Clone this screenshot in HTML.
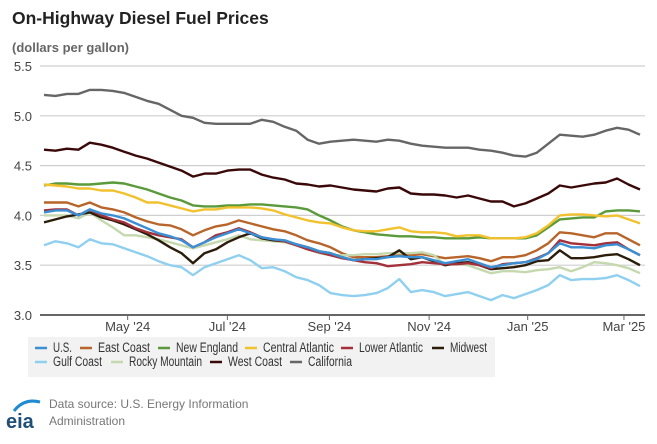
<!DOCTYPE html>
<html><head><meta charset="utf-8">
<style>
body{margin:0;background:#fff;width:657px;height:439px;overflow:hidden;font-family:"Liberation Sans",sans-serif;}
svg text{font-family:"Liberation Sans",sans-serif;}
</style></head>
<body>
<svg id="chart" width="657" height="439">
  <text x="12" y="24" font-size="17.5" font-weight="bold" fill="#222">On-Highway Diesel Fuel Prices</text>
  <text x="12" y="52" font-size="13" font-weight="bold" fill="#666">(dollars per gallon)</text>
  <g id="grid"></g><g id="series"></g><g id="xaxis"></g>
  <rect x="28" y="337" width="467" height="40" fill="#f2f2f2"/>
  <g id="legend"></g>
  <g>
    <path d="M14 411 Q24 398 40 402" stroke="#1f8ad1" stroke-width="3" fill="none"/>
    <text x="6" y="428" font-size="20" font-weight="bold" fill="#1f4e79">eia</text>
  </g>
  <text x="49" y="408" font-size="12" fill="#777">Data source: U.S. Energy Information</text>
  <text x="49" y="425" font-size="12" fill="#777">Administration</text>
</svg>
<script>
const yTicks=[3.0,3.5,4.0,4.5,5.0,5.5];
const xTickLabels=["May '24","Jul '24","Sep '24","Nov '24","Jan '25","Mar '25"];
const xTickIndex=[7.3,16.0,24.9,33.6,42.2,50.6];
const seriesNames=["U.S.","East Coast","New England","Central Atlantic","Lower Atlantic","Midwest","Gulf Coast","Rocky Mountain","West Coast","California"];
const seriesColors=["#3b8fd4","#b8652b","#5a9a3a","#f2c12e","#a3303a","#2b1d0a","#8fd0f0","#c5d8ae","#3a0808","#666666"];
const usData=[4.03,4.05,4.05,4.00,4.06,4.02,4.00,3.97,3.92,3.87,3.82,3.79,3.75,3.68,3.73,3.78,3.82,3.86,3.82,3.78,3.76,3.75,3.71,3.68,3.64,3.62,3.58,3.55,3.56,3.56,3.58,3.59,3.58,3.58,3.55,3.52,3.54,3.56,3.52,3.48,3.50,3.52,3.53,3.56,3.62,3.72,3.68,3.68,3.67,3.70,3.71,3.66,3.60];
const eastCoast=[4.13,4.13,4.13,4.09,4.13,4.08,4.06,4.03,3.98,3.94,3.91,3.90,3.86,3.80,3.85,3.89,3.91,3.95,3.92,3.89,3.86,3.84,3.80,3.75,3.72,3.68,3.62,3.58,3.58,3.58,3.59,3.60,3.60,3.61,3.59,3.57,3.58,3.59,3.57,3.54,3.58,3.58,3.60,3.65,3.72,3.83,3.82,3.80,3.78,3.82,3.82,3.76,3.70];
const newEngland=[4.30,4.32,4.32,4.31,4.31,4.32,4.33,4.32,4.29,4.26,4.22,4.18,4.15,4.10,4.09,4.09,4.10,4.10,4.11,4.11,4.10,4.09,4.08,4.06,4.00,3.95,3.89,3.85,3.83,3.81,3.80,3.79,3.79,3.78,3.78,3.77,3.77,3.77,3.78,3.77,3.77,3.77,3.77,3.80,3.88,3.96,3.97,3.98,3.98,4.04,4.05,4.05,4.04];
const centralAtlantic=[4.31,4.30,4.29,4.27,4.27,4.25,4.25,4.22,4.18,4.13,4.13,4.10,4.07,4.04,4.06,4.06,4.08,4.08,4.08,4.07,4.05,4.01,3.98,3.95,3.93,3.92,3.88,3.85,3.84,3.84,3.86,3.88,3.84,3.83,3.83,3.82,3.79,3.80,3.80,3.77,3.77,3.77,3.78,3.82,3.90,4.00,4.01,4.01,4.00,3.99,4.00,3.96,3.92];
const lowerAtlantic=[4.05,4.06,4.06,4.00,4.06,4.00,3.96,3.93,3.87,3.83,3.80,3.78,3.76,3.68,3.73,3.80,3.83,3.87,3.83,3.78,3.76,3.74,3.70,3.66,3.63,3.60,3.57,3.55,3.53,3.52,3.49,3.50,3.51,3.53,3.52,3.51,3.51,3.52,3.50,3.47,3.51,3.52,3.53,3.57,3.62,3.75,3.72,3.71,3.70,3.72,3.73,3.66,3.60];
const midwest=[3.93,3.96,3.99,4.01,4.03,3.98,3.95,3.91,3.86,3.81,3.75,3.68,3.62,3.52,3.62,3.66,3.73,3.78,3.82,3.77,3.75,3.74,3.71,3.68,3.64,3.62,3.58,3.55,3.56,3.57,3.58,3.65,3.56,3.58,3.54,3.50,3.52,3.53,3.50,3.46,3.47,3.48,3.50,3.54,3.55,3.65,3.57,3.57,3.58,3.60,3.61,3.56,3.50];
const gulfCoast=[3.70,3.74,3.72,3.68,3.76,3.72,3.71,3.67,3.63,3.59,3.54,3.50,3.48,3.40,3.48,3.52,3.56,3.60,3.55,3.47,3.48,3.44,3.38,3.35,3.30,3.22,3.20,3.19,3.20,3.22,3.27,3.36,3.23,3.25,3.23,3.19,3.21,3.23,3.19,3.15,3.20,3.17,3.21,3.25,3.30,3.40,3.35,3.36,3.36,3.37,3.40,3.35,3.29];
const rockyMountain=[4.00,4.00,4.00,3.97,4.03,3.95,3.88,3.80,3.80,3.78,3.76,3.73,3.70,3.67,3.70,3.73,3.76,3.80,3.76,3.75,3.74,3.73,3.70,3.66,3.62,3.60,3.60,3.60,3.61,3.61,3.62,3.62,3.62,3.63,3.60,3.50,3.51,3.50,3.46,3.42,3.44,3.44,3.43,3.45,3.46,3.48,3.44,3.48,3.53,3.52,3.50,3.47,3.42];
const westCoast=[4.66,4.65,4.67,4.66,4.73,4.71,4.68,4.64,4.60,4.57,4.53,4.49,4.45,4.39,4.42,4.42,4.45,4.46,4.46,4.41,4.38,4.36,4.32,4.31,4.29,4.30,4.28,4.26,4.25,4.24,4.27,4.28,4.22,4.21,4.21,4.20,4.18,4.20,4.17,4.14,4.14,4.09,4.12,4.17,4.22,4.30,4.28,4.30,4.32,4.33,4.37,4.31,4.26];
const california=[5.21,5.20,5.22,5.22,5.26,5.26,5.25,5.23,5.19,5.15,5.12,5.06,5.00,4.98,4.93,4.92,4.92,4.92,4.92,4.96,4.94,4.89,4.85,4.76,4.72,4.74,4.75,4.76,4.75,4.74,4.76,4.75,4.72,4.70,4.69,4.68,4.68,4.68,4.66,4.65,4.63,4.60,4.59,4.63,4.72,4.81,4.80,4.79,4.81,4.85,4.88,4.86,4.81];
const allSeries=[usData,eastCoast,newEngland,centralAtlantic,lowerAtlantic,midwest,gulfCoast,rockyMountain,westCoast,california];
const drawOrder=[9,8,2,3,1,7,5,6,4,0];

const NS="http://www.w3.org/2000/svg";
const X0=44,X1=640,Y0=315,Y1=66,VMIN=3.0,VMAX=5.5,N=usData.length;
const xs=i=>X0+i*(X1-X0)/(N-1);
const ys=v=>Y0-(v-VMIN)/(VMAX-VMIN)*(Y0-Y1);
function mk(tag,attrs,parent){const e=document.createElementNS(NS,tag);for(const k in attrs)e.setAttribute(k,attrs[k]);parent.appendChild(e);return e;}
const grid=document.getElementById('grid');
yTicks.forEach(t=>{
  if(t>VMIN){const l=mk('line',{x1:40,x2:645,y1:ys(t),y2:ys(t),stroke:'#cfcfcf','stroke-width':1.2},grid);
  
  }
  const tx=mk('text',{x:32,y:ys(t)+5,'font-size':13,fill:'#444','text-anchor':'end'},grid);
  tx.textContent=t.toFixed(1);
  
  
});
const xa=document.getElementById('xaxis');
const base=mk('line',{x1:40,x2:645,y1:Y0,y2:Y0,stroke:'#666','stroke-width':2},xa);


xTickLabels.forEach((lab,k)=>{
  const x=xs(xTickIndex[k]);
  mk('line',{x1:x,x2:x,y1:Y0,y2:Y0+5,stroke:'#666','stroke-width':1},xa);
  const t=mk('text',{x:x,y:Y0+16,'font-size':13,fill:'#444','text-anchor':'middle'},xa);
  t.textContent=lab;
  
  
});
const sg=document.getElementById('series');
drawOrder.forEach(s=>{
  const d=allSeries[s].map((v,i)=>(i?'L':'M')+xs(i).toFixed(1)+' '+ys(v).toFixed(1)).join(' ');
  const p=mk('path',{d:d,fill:'none',stroke:seriesColors[s],'stroke-width':2.4,'stroke-linejoin':'round'},sg);
  
  
});
const legendPos=[[35,352],[80,352],[158,352],[245,352],[341,352],[432,352],[35,366],[111,366],[210,366],[290,366]];
const legendW=[19,52,62,71,64,37,49,73,54,44];
const lg=document.getElementById('legend');
seriesNames.forEach((nm,s)=>{
  const [x,y]=legendPos[s];
  const g=mk('g',{},lg);
  
  
  mk('line',{x1:x,x2:x+12,y1:y-4,y2:y-4,stroke:seriesColors[s],'stroke-width':2.5},g);
  const t=mk('text',{x:x+18,y:y,'font-size':13.5,fill:'#333',textLength:legendW[s],lengthAdjust:'spacingAndGlyphs'},g);
  t.textContent=nm;
});
</script>
</body></html>
